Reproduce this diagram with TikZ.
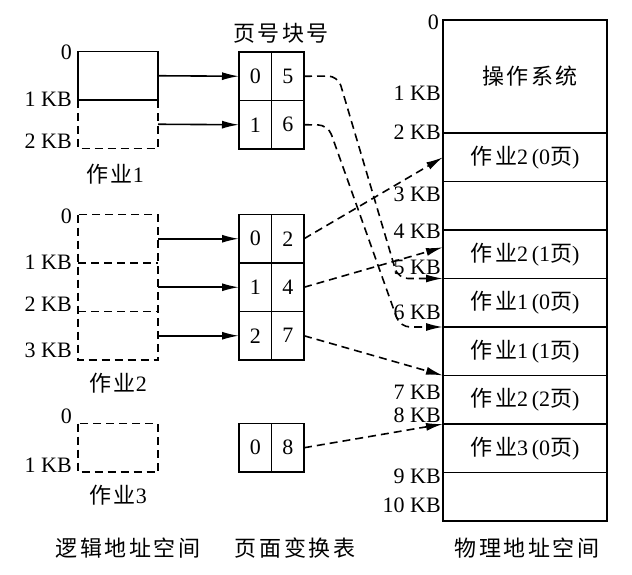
\documentclass[tikz,border=0pt]{standalone}
\usepackage{fontspec}
\setmainfont{Liberation Serif}
\newfontfamily\cjk[LetterSpace=12]{Noto Sans CJK SC}
\newcommand{\zh}[1]{{\cjk #1}}
\usetikzlibrary{arrows.meta, positioning}

\tikzset{
  slot/.style={minimum width=80pt, minimum height=48.5pt, inner sep=0pt, outer sep=0pt},
  jobcell/.style={slot, draw, line width=1.8pt},
  vline/.style={line width=1.8pt, dash pattern=on 8pt off 5pt},
  cell/.style={draw, line width=1.8pt, minimum width=32.5pt, minimum height=48.5pt, inner sep=0pt, outer sep=0pt},
  mem/.style={draw, line width=1.8pt, minimum width=164pt, minimum height=48.5pt, inner sep=0pt, outer sep=0pt},
  addr/.style={anchor=east, inner sep=0pt},
  arr/.style={line width=1.6pt, -{Latex[length=17pt,width=8pt]}},
  darr/.style={arr, dash pattern=on 8pt off 5pt},
}

\begin{document}
\begin{tikzpicture}[x=1pt, y=-1pt, font=\fontsize{22pt}{26pt}\selectfont]
    \useasboundingbox (0,0) rectangle (632,575);

    % logical address space
    \node[slot, anchor=north west] (a1) at (78,100) {};
    \node[jobcell, above=0pt of a1] (a0) {};
    \draw[vline] (a1.north west) -- (a1.south west) -- (a1.south east) -- (a1.north east);
    \node[addr] (a0t) at (72,52) {0};
    \node[addr] (a1t) at (72,99) {1 KB};
    \node[addr] (a2t) at (72,141) {2 KB};
    \node (job1) at (115,174) {\zh{作业}1};

    \node[slot, anchor=north west] (b0) at (78,214.5) {};
    \node[slot, below=0pt of b0] (b1) {};
    \node[slot, below=0pt of b1] (b2) {};
    \draw[vline] (b0.north west) rectangle (b2.south east);
    \draw[vline] (b1.north west) -- (b1.north east);
    \draw[vline] (b2.north west) -- (b2.north east);
    \node[addr] (b0t) at (72,216) {0};
    \node[addr] (b1t) at (72,262) {1 KB};
    \node[addr] (b2t) at (72,304) {2 KB};
    \node[addr] (b3t) at (72,350) {3 KB};
    \node (job2) at (118,383) {\zh{作业}2};

    \node[slot, anchor=north west] (c0) at (78,423.5) {};
    \draw[vline] (c0.north west) rectangle (c0.south east);
    \node[addr] (c0t) at (72,416) {0};
    \node[addr] (c1t) at (72,465) {1 KB};
    \node (job3) at (118,495) {\zh{作业}3};

    % page tables
    \node (ttl) at (281,33) {\zh{页号块号}};
    \node[cell, anchor=north west] (t1p0) at (239,52) {0};
    \node[cell, right=0pt of t1p0] (t1f0) {5};
    \node[cell, below=0pt of t1p0] (t1p1) {1};
    \node[cell, right=0pt of t1p1] (t1f1) {6};

    \node[cell, anchor=north west] (t2p0) at (239,214.5) {0};
    \node[cell, right=0pt of t2p0] (t2f0) {2};
    \node[cell, below=0pt of t2p0] (t2p1) {1};
    \node[cell, right=0pt of t2p1] (t2f1) {4};
    \node[cell, below=0pt of t2p1] (t2p2) {2};
    \node[cell, right=0pt of t2p2] (t2f2) {7};

    \node[cell, anchor=north west] (t3p0) at (239,423.5) {0};
    \node[cell, right=0pt of t3p0] (t3f0) {8};

    % physical memory
    \node[mem, anchor=north west, minimum height=113pt] (m0) at (443,20) {\hspace*{10pt}\zh{操作系统}};
    \node[mem, below=0pt of m0] (m1) {\zh{作业}2\,(0\zh{页})};
    \node[mem, below=0pt of m1] (m2) {};
    \node[mem, below=0pt of m2] (m3) {\zh{作业}2\,(1\zh{页})};
    \node[mem, below=0pt of m3] (m4) {\zh{作业}1\,(0\zh{页})};
    \node[mem, below=0pt of m4] (m5) {\zh{作业}1\,(1\zh{页})};
    \node[mem, below=0pt of m5] (m6) {\zh{作业}2\,(2\zh{页})};
    \node[mem, below=0pt of m6] (m7) {\zh{作业}3\,(0\zh{页})};
    \node[mem, below=0pt of m7] (m8) {};

    \node[addr] (k0) at (439,22) {0};
    \node[addr] (k1) at (441,93) {1 KB};
    \node[addr] (k2) at (441,132) {2 KB};
    \node[addr] (k3) at (441,194) {3 KB};
    \node[addr] (k4) at (441,231) {4 KB};
    \node[addr] (k5) at (441,267) {5 KB};
    \node[addr] (k6) at (441,312) {6 KB};
    \node[addr] (k7) at (441,392) {7 KB};
    \node[addr] (k8) at (441,415) {8 KB};
    \node[addr] (k9) at (441,476) {9 KB};
    \node[addr] (k10) at (441,505) {10 KB};

    % captions
    \node (cap1) at (128,548) {\zh{逻辑地址空间}};
    \node (cap2) at (295,548) {\zh{页面变换表}};
    \node (cap3) at (527,548) {\zh{物理地址空间}};

    % page to table
    \draw[arr] (a0.east) -- (t1p0.west);
    \draw[arr] (a1.east) -- (t1p1.west);
    \draw[arr] (b0.east) -- (t2p0.west);
    \draw[arr] (b1.east) -- (t2p1.west);
    \draw[arr] (b2.east) -- (t2p2.west);

    % table to memory
    \draw[darr, rounded corners=10pt] (t1f0.east) -- (338,76) -- (398,278.5) -- (m4.north west);
    \draw[darr, rounded corners=10pt] (t1f1.east) -- (328,125) -- (400,327) -- (m5.north west);
    \draw[darr] (t2f0.east) -- (m1.west);
    \draw[darr] (t2f1.east) -- ([yshift=7pt]m3.west);
    \draw[darr] (t2f2.east) -- (m6.north west);
    \draw[darr] (t3f0.east) -- (m7.north west);
\end{tikzpicture}
\end{document}
